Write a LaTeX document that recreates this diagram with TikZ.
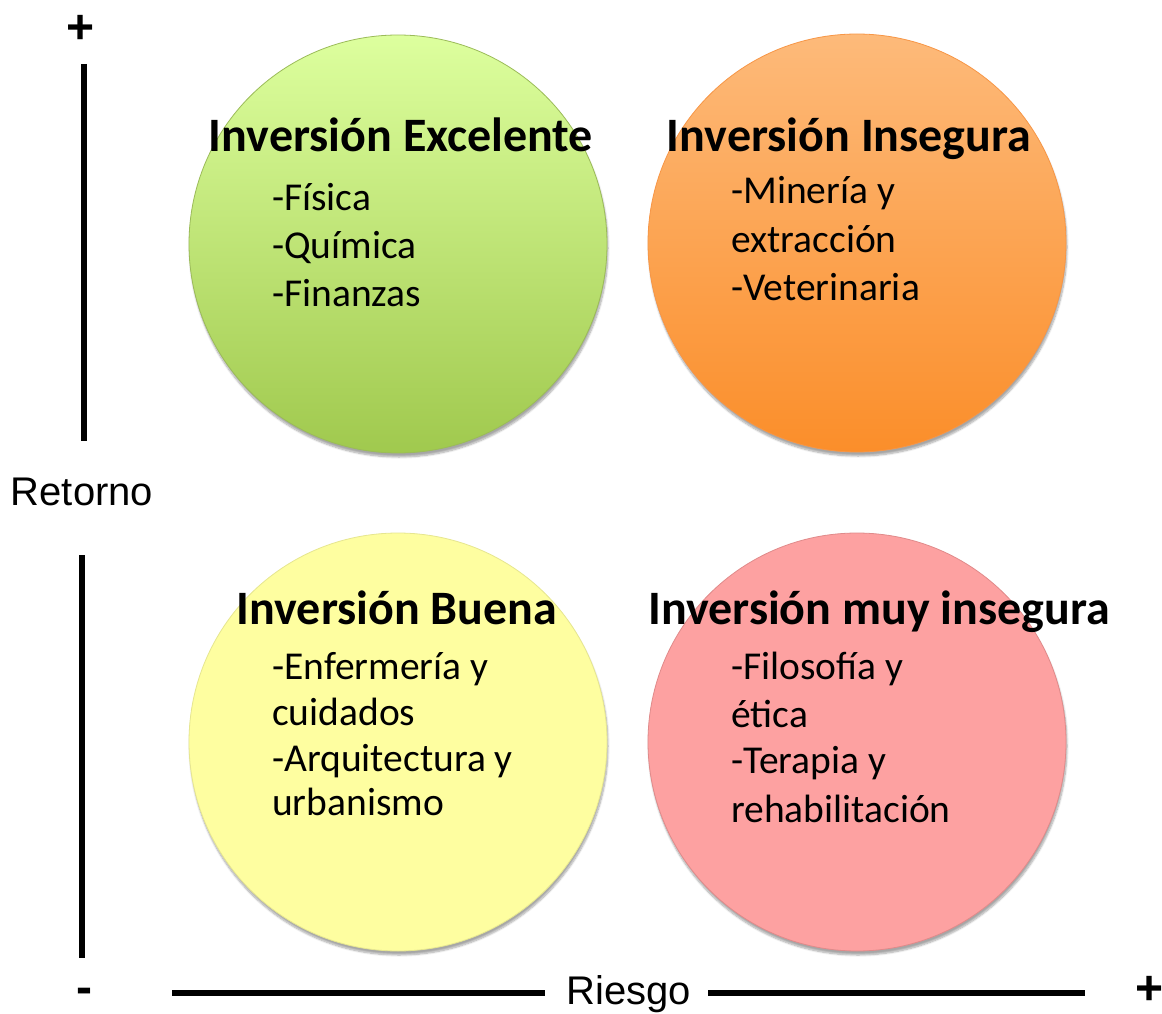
\documentclass[tikz,border=0pt]{standalone}
\usepackage{fontspec}
\setmainfont{Carlito}
\newfontfamily\arialf{Liberation Sans}
\usetikzlibrary{shadows.blur}
\definecolor{gtop}{HTML}{DDFF9E}
\definecolor{gbot}{HTML}{A0C94E}
\definecolor{gline}{HTML}{9BBB59}
\definecolor{otop}{HTML}{FDBA7A}
\definecolor{obot}{HTML}{FB8E2A}
\definecolor{oline}{HTML}{F79646}
\definecolor{yfill}{HTML}{FEFEA0}
\definecolor{yline}{HTML}{E6E690}
\definecolor{pfill}{HTML}{FDA1A1}
\definecolor{pline}{HTML}{E08A8A}
\tikzset{
  bubble/.style={circle,inner sep=0pt,minimum size=418pt,line width=0.8pt,
    blur shadow={shadow xshift=1pt,shadow yshift=-4pt,shadow blur steps=8,shadow opacity=35}},
  ttl/.style={font=\fontsize{48}{57}\selectfont\bfseries,inner sep=0pt,anchor=base},
  itm/.style={font=\fontsize{39.5}{48}\selectfont,inner sep=0pt,anchor=base west},
  axis/.style={line width=6pt,black},
  axlbl/.style={font=\arialf\fontsize{40}{46}\selectfont,inner sep=0pt},
  sign/.style={font=\arialf\bfseries\fontsize{48}{52}\selectfont,inner sep=0pt}
}
\begin{document}
\begin{tikzpicture}[x=1pt,y=-1pt]
\useasboundingbox (0,0) rectangle (1162,1014);
% circles
\node[bubble,draw=gline,top color=gtop,bottom color=gbot] (exc) at (398,244) {};
\node[bubble,draw=oline,top color=otop,bottom color=obot] (ins) at (857,243) {};
\node[bubble,draw=yline,fill=yfill] (bue) at (398,742) {};
\node[bubble,draw=pline,fill=pfill] (muy) at (857,742) {};
% titles
\node[ttl] (texc) at (401,152) {Inversión Excelente};
\node[ttl] (tins) at (849,152) {Inversión Insegura};
\node[ttl] (tbue) at (397,624) {Inversión Buena};
\node[ttl] (tmuy) at (879,624) {Inversión muy insegura};
% items
\node[itm] (e1) at (272,210) {-Física};
\node[itm] (e2) at (272,258) {-Química};
\node[itm] (e3) at (272,306) {-Finanzas};
\node[itm] (i1) at (731,203) {-Minería y};
\node[itm] (i2) at (731,252) {extracción};
\node[itm] (i3) at (731,300) {-Veterinaria};
\node[itm] (b1) at (272,679) {-Enfermería y};
\node[itm] (b2) at (272,725) {cuidados};
\node[itm] (b3) at (272,771) {-Arquitectura y};
\node[itm] (b4) at (272,815) {urbanismo};
\node[itm] (m1) at (731,679) {-Filosofía y};
\node[itm] (m2) at (731,727) {ética};
\node[itm] (m3) at (731,773) {-Terapia y};
\node[itm] (m4) at (731,822) {rehabilitación};
% axes
\node[sign] (plusv) at (81,29) {+};
\node[axlbl] (ret) at (82,492) {Retorno};
\node[axlbl] (rie) at (629,994) {Riesgo};
\node[sign] (minus) at (84,996) {-};
\node[sign] (plush) at (1150,990) {+};
\coordinate (v1) at (84,64);
\coordinate (v2) at (84,441);
\coordinate (v3) at (82,555);
\coordinate (v4) at (82,958);
\coordinate (h1) at (172,993);
\coordinate (h2) at (545,993);
\coordinate (h3) at (708,993);
\coordinate (h4) at (1085,993);
\draw[axis] (v1) -- (v2);
\draw[axis] (v3) -- (v4);
\draw[axis] (h1) -- (h2);
\draw[axis] (h3) -- (h4);
\end{tikzpicture}
\end{document}
